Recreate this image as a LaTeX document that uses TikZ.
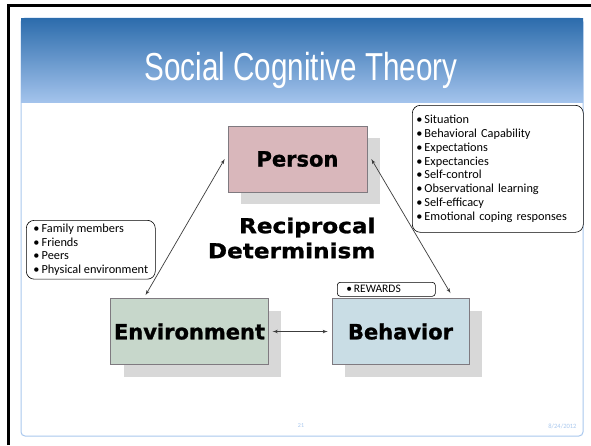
\documentclass[tikz,border=0pt]{standalone}
\usepackage{fontspec}
\setmainfont{Liberation Sans}
\newfontfamily\titlefont[FakeStretch=0.76]{Liberation Sans}
\newfontfamily\heavyfont[FakeBold=1.2]{DejaVu Sans}
\newfontfamily\widefont[FakeStretch=1.13, FakeBold=1.2]{DejaVu Sans}
\newfontfamily\listfont{Carlito}
\usetikzlibrary{positioning, arrows, shadows}

\definecolor{headtop}{HTML}{2C6CAC}
\definecolor{headbottom}{HTML}{A3C3EC}
\definecolor{frameblue}{HTML}{A9C8EE}
\definecolor{personpink}{HTML}{D9B7BB}
\definecolor{envgreen}{HTML}{C7D7CB}
\definecolor{behblue}{HTML}{C9DDE5}
\definecolor{boxedge}{HTML}{7F7A80}
\definecolor{shadowgray}{HTML}{D8D8D8}
\definecolor{arrowgray}{HTML}{3C3C3C}

\tikzstyle{line} = [draw, latex'-latex', color=arrowgray, line width=0.7pt]
\tikzstyle{block} = [rectangle, draw=boxedge, line width=0.6pt,
    minimum width=139pt, minimum height=66pt,
    font=\heavyfont\bfseries\fontsize{21}{24}\selectfont,
    drop shadow={shadow xshift=13pt, shadow yshift=-12pt, fill=shadowgray, opacity=1}]
\tikzstyle{notes} = [rectangle, draw, fill=white, rounded corners=8pt, line width=0.6pt,
    anchor=north west, align=left, inner xsep=4pt,
    font=\listfont\fontsize{12.3}{13.9}\selectfont]

\begin{document}
\begin{tikzpicture}[x=1pt, y=-1pt]
      \useasboundingbox (0,0) rectangle (591,445);
      \fill[white] (0,0) rectangle (591,445);

      % slide frame and header
      \draw[frameblue, line width=1pt, rounded corners=4pt] (21,18) rectangle (583,436);
      \shade[top color=headtop, bottom color=headbottom] (21,18) rectangle (583,102);
      \node[font=\titlefont\fontsize{39}{40}\selectfont, text=white] (title) at (301,70) {Social Cognitive Theory};

      % border of the page
      \draw[black, line width=3pt] (8.5,445) -- (8.5,5.5) -- (591,5.5);

      % the three boxes
      \node [block, fill=personpink] (person) at (297.5,159) {Person};
      \node [block, fill=envgreen, minimum width=153pt] (environment) at (189.5,331.5) {Environment};
      \node [block, fill=behblue, minimum width=137pt] (behavior) at (400.5,331.5) {Behavior};

      \node[font=\widefont\bfseries\fontsize{20.5}{25}\selectfont, align=right, anchor=east] (recip) at (379,238)
          {Reciprocal\\Determinism};

      % connectors
      \path [line] ([xshift=-3pt]person.west) -- ([xshift=-44pt,yshift=3pt]environment.north);
      \path [line] ([xshift=4pt]person.east) -- ([xshift=50pt,yshift=5pt]behavior.north);
      \path [line] ([xshift=4pt]environment.east) -- ([xshift=-4pt]behavior.west);

      % notes
      \node [notes, text width=163pt, minimum height=127pt] (factors) at (412,105)
          {\textbullet\,Situation\\
           \textbullet\,Behavioral Capability\\
           \textbullet\,Expectations\\
           \textbullet\,Expectancies\\
           \textbullet\,Self-control\\
           \textbullet\,Observational learning\\
           \textbullet\,Self-efficacy\\
           \textbullet\,Emotional coping responses};
      \node [notes, minimum width=129pt, minimum height=58pt] (surroundings) at (26,220)
          {\textbullet\,Family members\\
           \textbullet\,Friends\\
           \textbullet\,Peers\\
           \textbullet\,Physical environment};
      \node [notes, rounded corners=3pt, inner xsep=9pt, text width=80pt, minimum height=14pt, inner ysep=0pt,
          font=\listfont\fontsize{11.5}{12}\selectfont] (rewards) at (337,282)
          {\textbullet\,REWARDS};

      % footer
      \node[font=\listfont\fontsize{6}{7}\selectfont, text=frameblue] (page) at (301,426) {21};
      \node[font=\listfont\fontsize{6.5}{7}\selectfont, text=frameblue, anchor=east] (date) at (580,426) {8/24/2012};
\end{tikzpicture}
\end{document}
